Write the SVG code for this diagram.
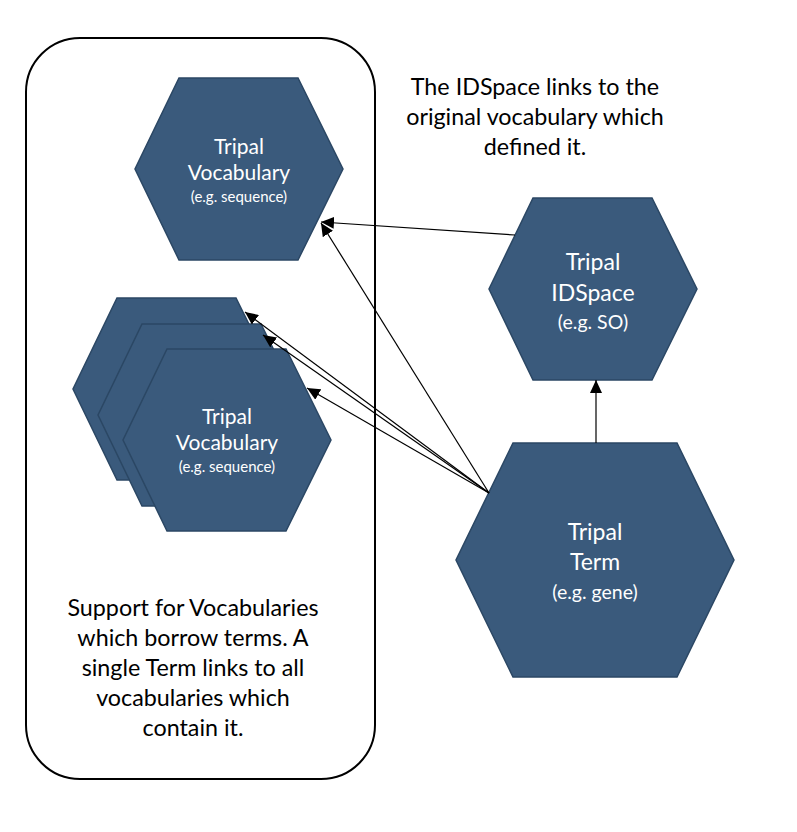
<svg xmlns="http://www.w3.org/2000/svg" width="797" height="832" viewBox="0 0 797 832">
<style>
.hex{fill:#3a5a7c;stroke:#2b4764;stroke-width:1.5}
.t{font-family:Lato,"Open Sans",sans-serif;fill:#ffffff;text-anchor:middle}
.big{font-size:21px}
.big2{font-size:23px}
.sm{font-size:15px}
.sm2{font-size:19.5px}
.note{font-family:Lato,"Open Sans",sans-serif;font-size:23.3px;fill:#000;text-anchor:middle}
.con{stroke:#000;stroke-width:1.2;fill:none;marker-end:url(#ah)}
</style>
<defs>
<marker id="ah" markerUnits="userSpaceOnUse" markerWidth="14" markerHeight="12" refX="13" refY="6" orient="auto">
<path d="M0,0 L13,6 L0,12 Z" fill="#000"/>
</marker>
</defs>
<rect width="797" height="832" fill="#fff"/>
<g id="box">
<rect x="26" y="38" width="349" height="741" rx="54" ry="54" fill="none" stroke="#000" stroke-width="2"/>
<text class="note" x="193" y="616">Support for Vocabularies</text>
<text class="note" x="193" y="646">which borrow terms. A</text>
<text class="note" x="193" y="676">single Term links to all</text>
<text class="note" x="193" y="706">vocabularies which</text>
<text class="note" x="193" y="736">contain it.</text>
</g>
<g id="note-idspace">
<text class="note" x="535" y="95">The IDSpace links to the</text>
<text class="note" x="535" y="125">original vocabulary which</text>
<text class="note" x="535" y="155">defined it.</text>
</g>
<g id="vocab-top">
<polygon class="hex" points="179,78 298,78 343,169 298,260 179,260 135,169"/>
<text class="t big" x="239" y="154">Tripal</text>
<text class="t big" x="239" y="180">Vocabulary</text>
<text class="t sm" x="239" y="202">(e.g. sequence)</text>
</g>
<g id="vocab-back">
<polygon class="hex" points="117,298 236,298 281,389 236,480 117,480 73,389"/>
</g>
<g id="vocab-middle">
<polygon class="hex" points="142,324 261,324 306,415 261,506 142,506 98,415"/>
</g>
<g id="vocab-front">
<polygon class="hex" points="167,349 286,349 331,440 286,531 167,531 123,440"/>
<text class="t big" x="227" y="424">Tripal</text>
<text class="t big" x="227" y="450">Vocabulary</text>
<text class="t sm" x="227" y="472">(e.g. sequence)</text>
</g>
<g id="idspace">
<polygon class="hex" points="533,198 652,198 697,289 652,380 533,380 489,289"/>
<text class="t big2" x="593" y="270">Tripal</text>
<text class="t big2" x="593" y="301">IDSpace</text>
<text class="t sm2" x="593" y="329">(e.g. SO)</text>
</g>
<g id="term">
<polygon class="hex" points="513,443 677,443 734,560 677,677 513,677 456,560"/>
<text class="t big2" x="595" y="540">Tripal</text>
<text class="t big2" x="595" y="570">Term</text>
<text class="t sm2" x="595" y="599">(e.g. gene)</text>
</g>
<g id="connectors">
<line class="con" x1="515" y1="235" x2="321" y2="222"/>
<line class="con" x1="489" y1="493" x2="321" y2="223"/>
<line class="con" x1="489" y1="493" x2="245" y2="312"/>
<line class="con" x1="489" y1="493" x2="263" y2="335"/>
<line class="con" x1="489" y1="493" x2="307" y2="388"/>
<line class="con" x1="596" y1="443" x2="596" y2="380"/>
</g>
</svg>
